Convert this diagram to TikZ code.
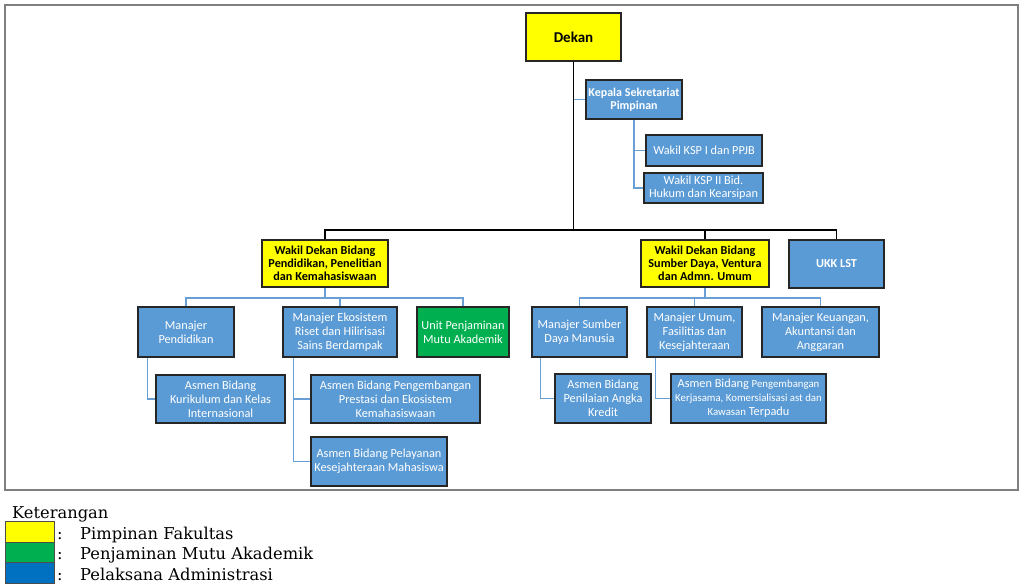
\documentclass[tikz,border=0pt]{standalone}
\usepackage{fontspec}
\setmainfont{Carlito}
\newfontfamily\legendfont{DejaVu Serif}
\usepackage{xcolor}

\definecolor{pimpinan}{HTML}{FFFF00}
\definecolor{mutu}{HTML}{00B050}
\definecolor{staf}{HTML}{5B9BD5}
\definecolor{admin}{HTML}{0070C0}
\definecolor{garis}{HTML}{6A9FD6}
\definecolor{bingkai}{HTML}{7F7F7F}

\begin{document}
\begin{tikzpicture}[x=1pt,y=-1pt,
    box/.style={draw=black!85, line width=1.2pt, fill=staf, text=white, align=center,
      inner sep=1pt, font=\fontsize{12.3}{13.9}\selectfont},
    lead/.style={box, fill=pimpinan, text=black, font=\fontsize{12.2}{13.2}\selectfont\bfseries},
    unit/.style={box, fill=mutu},
    link/.style={draw=garis, line width=1.3pt},
    trunk/.style={draw=black, line width=1.6pt},
    swatch/.style={draw=black!70, line width=0.6pt, minimum width=49, minimum height=20.5, inner sep=0pt},
    legend/.style={anchor=base west, inner sep=0pt, font=\legendfont\fontsize{16.3}{19}\selectfont}]
    \useasboundingbox (0,0) rectangle (1024,584);
    \draw[bingkai, line width=1.5pt] (5,5) rectangle (1018,490);

    % pimpinan
    \node[lead, minimum width=95, minimum height=48, font=\fontsize{15}{17}\selectfont\bfseries] (dekan) at (573.5,37) {Dekan};
    \node[box, minimum width=96, minimum height=39, font=\fontsize{12}{13.5}\selectfont\bfseries] (ksp) at (634,99.5) {Kepala Sekretariat\\Pimpinan};
    \node[box, minimum width=116, minimum height=31] (wksp1) at (704,150.5) {Wakil KSP I dan PPJB};
    \node[box, minimum width=119, minimum height=30, font=\fontsize{12.3}{13}\selectfont] (wksp2) at (703.5,188) {Wakil KSP II Bid.\\Hukum dan Kearsipan};

    \node[lead, minimum width=126, minimum height=47] (wd1) at (325,263.5) {Wakil Dekan Bidang\\Pendidikan, Penelitian\\dan Kemahasiswaan};
    \node[lead, minimum width=128, minimum height=47] (wd2) at (705,263.5) {Wakil Dekan Bidang\\Sumber Daya, Ventura\\dan Admn. Umum};
    \node[box, line width=2pt, minimum width=95, minimum height=48, font=\fontsize{12.2}{13.2}\selectfont\bfseries] (ukk) at (836.5,264) {UKK LST};

    % manajer
    \node[box, minimum width=96, minimum height=50] (mpend) at (186,332) {Manajer\\Pendidikan};
    \node[box, minimum width=114, minimum height=50] (meko) at (340,332) {Manajer Ekosistem\\Riset dan Hilirisasi\\Sains Berdampak};
    \node[unit, minimum width=92, minimum height=50] (upma) at (463,332) {Unit Penjaminan\\Mutu Akademik};
    \node[box, minimum width=95, minimum height=50] (msdm) at (579.5,332) {Manajer Sumber\\Daya Manusia};
    \node[box, minimum width=95, minimum height=50] (mumum) at (694.5,332) {Manajer Umum,\\Fasilitias dan\\Kesejahteraan};
    \node[box, minimum width=117, minimum height=50] (mkeu) at (820.5,332) {Manajer Keuangan,\\Akuntansi dan\\Anggaran};

    % asmen
    \node[box, minimum width=129, minimum height=48] (akur) at (220.5,399) {Asmen Bidang\\Kurikulum dan Kelas\\Internasional};
    \node[box, minimum width=169, minimum height=48] (apres) at (395.5,399) {Asmen Bidang Pengembangan\\Prestasi dan Ekosistem\\Kemahasiswaan};
    \node[box, minimum width=136, minimum height=49] (apel) at (379,461.5) {Asmen Bidang Pelayanan\\Kesejahteraan Mahasiswa};
    \node[box, minimum width=96, minimum height=49] (apen) at (603,398.5) {Asmen Bidang\\Penilaian Angka\\Kredit};
    \node[box, minimum width=155, minimum height=49] (aker) at (748.5,398.5)
      {Asmen Bidang {\fontsize{10.8}{12}\selectfont Pengembangan}\\{\fontsize{10.8}{12}\selectfont Kerjasama, Komersialisasi ast dan}\\{\fontsize{10.8}{12}\selectfont Kawasan} Terpadu};

    % garis komando
    \coordinate (bus) at (573.5,230);
    \draw[trunk] (dekan.south) -- (bus);
    \draw[trunk] (wd1.north) |- (bus) -| (ukk.north);
    \draw[trunk] (bus -| wd2.north) -- (wd2.north);
    \draw[link] (ksp.west) -- (ksp.west -| dekan.south);
    \draw[link] (ksp.south) |- (wksp1.west);
    \draw[link] (ksp.south) |- (wksp2.west);

    \coordinate (b1) at (325,298);
    \draw[link] (wd1.south) -- (b1);
    \draw[link] (mpend.north) |- (b1) -| (upma.north);
    \draw[link] (meko.north) -- (meko.north |- b1);

    \coordinate (b2) at (705,298);
    \draw[link] (wd2.south) -- (b2);
    \draw[link] (msdm.north) |- (b2) -| (mkeu.north);
    \draw[link] (mumum.north) -- (mumum.north |- b2);

    \draw[link] ([xshift=10pt]mpend.south west) |- (akur.west);
    \draw[link] ([xshift=11pt]meko.south west) |- (apres.west);
    \draw[link] ([xshift=11pt]meko.south west) |- (apel.west);
    \draw[link] ([xshift=9pt]msdm.south west) |- (apen.west);
    \draw[link] ([xshift=9pt]mumum.south west) |- (aker.west);

    % keterangan
    \node[legend] (ket) at (12,518) {Keterangan};
    \foreach \warna/\teks [count=\i] in {pimpinan/Pimpinan Fakultas, mutu/Penjaminan Mutu Akademik, admin/Pelaksana Administrasi}
    {
        \node[swatch, fill=\warna] (sw\i) at (29.5,511.5+20.5*\i) {};
        \node[legend] (col\i) at (57,518.5+20.5*\i) {:};
        \node[legend] (lbl\i) at (80,518.5+20.5*\i) {\teks};
    }
\end{tikzpicture}
\end{document}
